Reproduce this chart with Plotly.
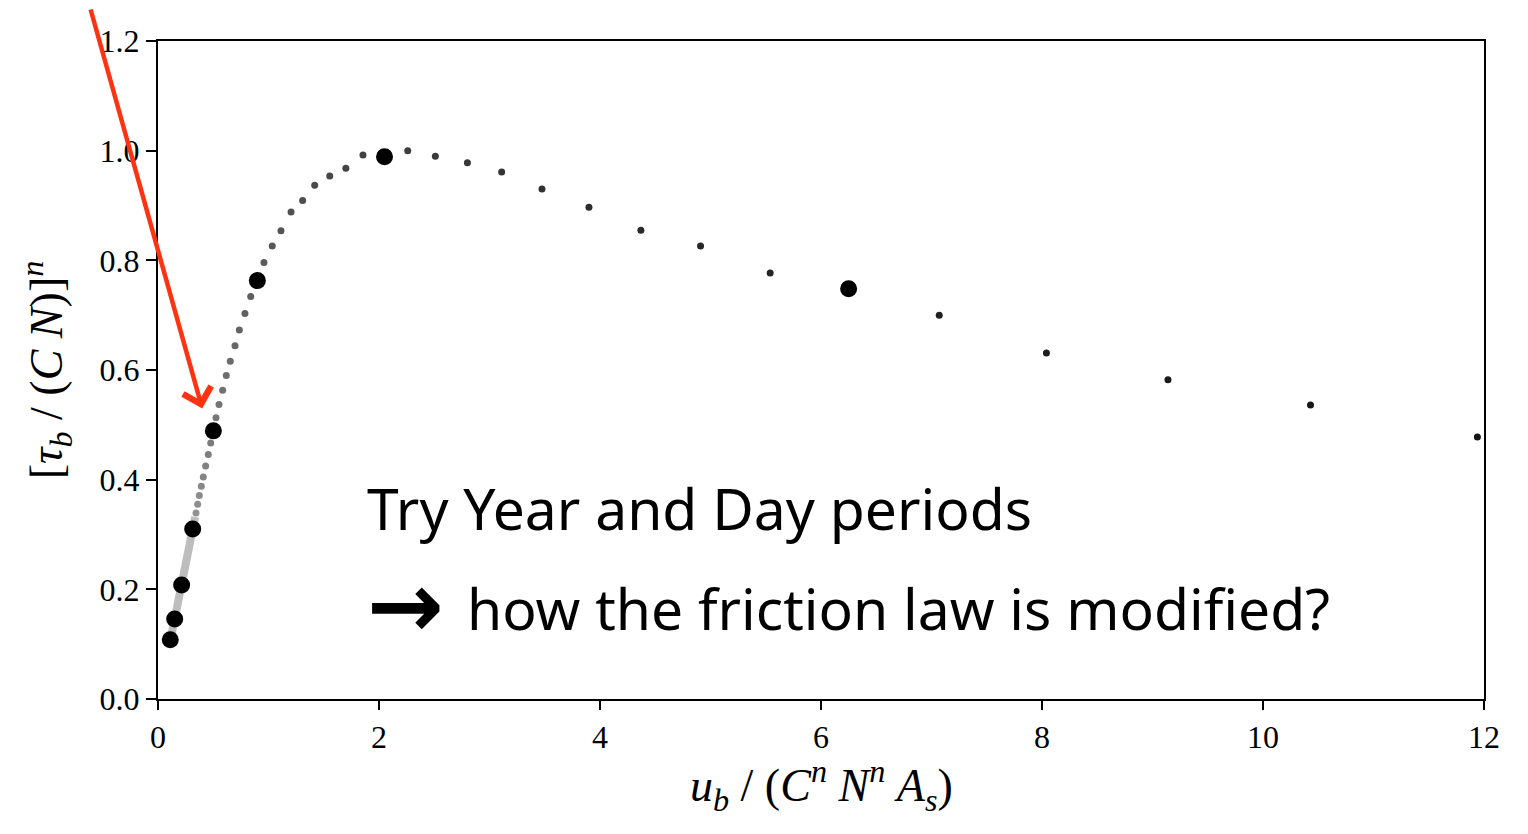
import plotly.graph_objects as go

# friction law curve (small dots)
u_small = [0.344, 0.359, 0.374, 0.392, 0.410, 0.431, 0.455, 0.477, 0.525, 0.552,
           0.585, 0.618, 0.654, 0.697, 0.736, 0.787, 0.839, 0.959, 1.034, 1.113,
           1.204, 1.309, 1.418, 1.554, 1.700, 1.855, 2.26, 2.51, 2.80, 3.11,
           3.475, 3.90, 4.37, 4.91, 5.54, 7.07, 8.04, 9.14, 10.43, 11.94]
tau_small = [0.339, 0.355, 0.371, 0.388, 0.405, 0.425, 0.446, 0.467, 0.513, 0.537,
             0.563, 0.590, 0.616, 0.644, 0.673, 0.703, 0.734, 0.796, 0.826, 0.854,
             0.888, 0.909, 0.937, 0.954, 0.968, 0.992, 1.000, 0.990, 0.978, 0.961,
             0.930, 0.897, 0.855, 0.826, 0.777, 0.700, 0.631, 0.582, 0.536, 0.478]

# dense low-velocity part (drawn as a solid band)
u_dense = [0.118, 0.151, 0.214, 0.314, 0.336]
tau_dense = [0.113, 0.146, 0.208, 0.310, 0.332]

# highlighted points
u_big = [0.111, 0.151, 0.214, 0.314, 0.501, 0.899, 2.05, 6.25]
tau_big = [0.108, 0.146, 0.208, 0.310, 0.489, 0.763, 0.989, 0.748]

# grey shade for each small dot: lighter at low velocity, darker at high
n = len(u_small)
shades = []
for i in range(n):
    g = int(146 - (146 - 20) * i / (n - 1))
    shades.append(f"rgb({g},{g},{g})")

fig = go.Figure()
fig.add_trace(go.Scatter(x=u_dense, y=tau_dense, mode="lines",
                         line=dict(color="#bdbdbd", width=8), hoverinfo="skip"))
fig.add_trace(go.Scatter(x=u_small, y=tau_small, mode="markers",
                         marker=dict(color=shades, size=7)))
fig.add_trace(go.Scatter(x=u_big, y=tau_big, mode="markers",
                         marker=dict(color="black", size=17)))

serif = "Liberation Serif, DejaVu Serif, serif"
hand = "Noto Sans, Open Sans, sans-serif"

fig.update_xaxes(range=[0, 12], tickvals=[0, 2, 4, 6, 8, 10, 12],
                 showgrid=False, zeroline=False, showline=True, linecolor="black",
                 linewidth=2, mirror=True, ticks="outside", ticklen=9, tickwidth=2,
                 tickcolor="black", tickfont=dict(family=serif, size=32, color="black"))
fig.update_yaxes(range=[0, 1.2], tickvals=[0, 0.2, 0.4, 0.6, 0.8, 1.0, 1.2],
                 ticktext=["0.0", "0.2", "0.4", "0.6", "0.8", "1.0", "1.2"],
                 showgrid=False, zeroline=False, showline=True, linecolor="black",
                 linewidth=2, mirror=True, ticks="outside", ticklen=10, tickwidth=2,
                 tickcolor="black", tickfont=dict(family=serif, size=32, color="black"),
                 title=dict(text="[<i>τ</i><sub><i>b</i></sub> / (<i>C N</i>)]<sup><i>n</i></sup>",
                            font=dict(family=serif, size=46, color="black"), standoff=22))

# x axis label placed by hand (axis title standoff can't go low enough)
fig.add_annotation(xref="paper", yref="paper", x=0.5, y=-0.131, xanchor="center",
                   yanchor="middle", showarrow=False,
                   text="<i>u</i><sub><i>b</i></sub> / (<i>C</i><sup><i>n</i></sup> "
                        "<i>N</i><sup><i>n</i></sup> <i>A</i><sub><i>s</i></sub>)",
                   font=dict(family=serif, size=46, color="black"))

# red arrow coming from the top-left corner
fig.add_annotation(x=0.40, y=0.53, ax=-112, ay=-430, text="", showarrow=True,
                   arrowhead=4, arrowsize=1.25, arrowwidth=4.5, arrowcolor="#ff3311")

# handwritten note
fig.add_annotation(xref="paper", yref="paper", x=0.156, y=0.29, xanchor="left",
                   yanchor="middle", showarrow=False, text="Try Year and Day periods",
                   font=dict(family=hand, size=57, color="black"))
fig.add_annotation(xref="paper", yref="paper", x=0.156, y=0.142, xanchor="left",
                   yanchor="middle", showarrow=False, text="<b>→</b>",
                   font=dict(family="DejaVu Sans", size=92, color="black"))
fig.add_annotation(xref="paper", yref="paper", x=0.2315, y=0.138, xanchor="left",
                   yanchor="middle", showarrow=False,
                   text="how the friction law is modified?",
                   font=dict(family=hand, size=57, color="black"))

# the page body adds an 8px margin, so the figure is 8px smaller
fig.update_layout(width=1520, height=826, showlegend=False,
                  margin=dict(l=150, r=44, t=33, b=135),
                  plot_bgcolor="white", paper_bgcolor="white")

fig.write_html("out.html")
